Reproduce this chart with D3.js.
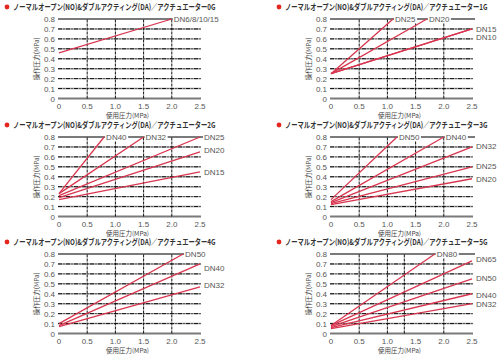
<!DOCTYPE html>
<html><head><meta charset="utf-8">
<script src="https://cdn.jsdelivr.net/npm/d3@7"></script>
<style>body{margin:0;background:#fff}svg{display:block}</style>
</head><body><svg id="c" width="500" height="355"></svg>
<script>
const titles = [
  "ノーマルオープン(NO)&ダブルアクティング(DA)／アクチュエーター0G",
  "ノーマルオープン(NO)&ダブルアクティング(DA)／アクチュエーター1G",
  "ノーマルオープン(NO)&ダブルアクティング(DA)／アクチュエーター2G",
  "ノーマルオープン(NO)&ダブルアクティング(DA)／アクチュエーター3G",
  "ノーマルオープン(NO)&ダブルアクティング(DA)／アクチュエーター4G",
  "ノーマルオープン(NO)&ダブルアクティング(DA)／アクチュエーター5G"
];
const xTicks = [0, 0.5, 1.0, 1.5, 2.0, 2.5];
const yTicks = [0, 0.1, 0.2, 0.3, 0.4, 0.5, 0.6, 0.7, 0.8];
const xTitle = "使用圧力(MPa)";
const yTitle = "操作圧力(MPa)";
// vertical grid values per panel
const gridX = [[0.5,1,1.5,2],[0.5,1,1.5,2],[0.5,1,1.5,2],[0.5,1,1.5,2],[0.5,1,1.5,2],[0.5,1,1.3,2]];
// series: name, start y at 0, end x, end y, label value y
const series0G = [["DN6/8/10/15", 0.46, 2.0, 0.8, 0.8]];
const series1G = [["DN25", 0.25, 1.1, 0.8, 0.8], ["DN20", 0.25, 1.7, 0.8, 0.8], ["DN15", 0.25, 2.5, 0.70, 0.70], ["DN10", 0.25, 2.5, 0.70, 0.62]];
const series2G = [["DN40", 0.23, 0.8, 0.8, 0.8], ["DN32", 0.23, 1.5, 0.8, 0.8], ["DN25", 0.21, 2.5, 0.8, 0.8], ["DN20", 0.19, 2.5, 0.65, 0.665], ["DN15", 0.17, 2.5, 0.45, 0.445]];
const series3G = [["DN50", 0.17, 1.17, 0.8, 0.8], ["DN40", 0.15, 2.0, 0.8, 0.8], ["DN32", 0.14, 2.5, 0.70, 0.705], ["DN25", 0.13, 2.5, 0.50, 0.505], ["DN20", 0.12, 2.5, 0.38, 0.38]];
const series4G = [["DN50", 0.10, 2.2, 0.8, 0.8], ["DN40", 0.08, 2.5, 0.70, 0.66], ["DN32", 0.07, 2.5, 0.47, 0.49]];
const series5G = [["DN80", 0.08, 1.84, 0.8, 0.8], ["DN65", 0.08, 2.5, 0.73, 0.75], ["DN50", 0.07, 2.5, 0.55, 0.56], ["DN40", 0.06, 2.5, 0.40, 0.39], ["DN32", 0.05, 2.5, 0.30, 0.30]];
const allSeries = [series0G, series1G, series2G, series3G, series4G, series5G];

const svg = d3.select("#c");
const cols = [59, 331], rows = [19, 137, 254];
const W = 141, H = 79.5;
const red = "#d8364f", font = "'Liberation Sans', Arial, sans-serif";
const jp = "'Noto Sans CJK JP', sans-serif";

allSeries.forEach((ser, i) => {
  const left = cols[i % 2], top = rows[Math.floor(i / 2)];
  const x = d3.scaleLinear().domain([0, 2.5]).range([left, left + W]);
  const y = d3.scaleLinear().domain([0, 0.8]).range([top + H, top]);
  const g = svg.append("g");
  // title
  g.append("circle").attr("cx", left - 52).attr("cy", top - 12).attr("r", 2.4).attr("fill", "#e5261e");
  const tt = g.append("text").attr("x", 0).attr("y", 0).text(titles[i])
    .attr("font-family", jp).attr("font-weight", "bold").attr("font-size", 8).attr("fill", "#333");
  const natural = tt.node().getComputedTextLength();
  tt.attr("transform", `translate(${left - 46},${top - 9}) scale(${203 / natural},1)`);
  // horizontal grid
  yTicks.forEach(v => {
    const edge = (v === 0 || v === 0.8);
    g.append("line").attr("x1", x(0) - 1).attr("x2", x(2.5) + (v === 0.8 ? 3 : 1)).attr("y1", y(v)).attr("y2", y(v))
      .attr("stroke", edge ? "#7a7a7a" : "#9a9a9a").attr("stroke-width", edge ? 2 : 1.4);
    if (!edge) g.append("line").attr("x1", x(0) - 1).attr("x2", x(2.5) + 1).attr("y1", y(v)).attr("y2", y(v))
      .attr("stroke", "#111").attr("stroke-width", 1).attr("stroke-dasharray", "4,1.5,1,1.5");
  });
  // vertical grid
  gridX[i].forEach(v => {
    g.append("line").attr("x1", x(v)).attr("x2", x(v)).attr("y1", y(0)).attr("y2", y(0.8))
      .attr("stroke", "#111").attr("stroke-width", 1).attr("stroke-dasharray", "3,1");
  });
  // tick labels
  yTicks.forEach(v => g.append("text").attr("x", left - 4).attr("y", y(v) + 3).attr("text-anchor", "end")
    .attr("font-family", font).attr("font-size", 8).attr("fill", "#555").text(v === 0 ? "0" : v.toFixed(1)));
  xTicks.forEach(v => g.append("text").attr("x", x(v)).attr("y", top + H + 10).attr("text-anchor", "middle")
    .attr("font-family", font).attr("font-size", 8).attr("fill", "#555").text(v === 0 ? "0" : v.toFixed(1)));
  g.append("text").attr("x", left + W / 2 - 2).attr("y", top + H + 19).attr("text-anchor", "middle")
    .attr("font-family", jp).attr("font-size", 6.5).attr("fill", "#444").text(xTitle);
  g.append("text").attr("transform", `translate(${left - 20},${top + H / 2}) rotate(-90)`).attr("text-anchor", "middle")
    .attr("font-family", jp).attr("font-size", 6.5).attr("fill", "#444").text(yTitle);
  // lines
  const line = d3.line().x(d => x(d[0])).y(d => y(d[1]));
  ser.forEach(s => {
    g.append("path").attr("d", line([[0, s[1]], [s[2], s[3]]])).attr("fill", "none")
      .attr("stroke", red).attr("stroke-width", 1.3);
  });
  // labels
  ser.forEach(s => {
    const onTop = s[2] < 2.5 && s[3] === 0.8;
    const lx = onTop ? x(s[2]) + 2 : x(2.5) + 4;
    const t = g.append("text").attr("x", lx).attr("y", y(s[4]) + 3)
      .attr("font-family", font).attr("font-size", 8).attr("fill", "#555").text(s[0]);
    if (onTop) {
      const b = t.node().getBBox();
      g.insert("rect", () => t.node()).attr("x", b.x - 1).attr("y", b.y + 1).attr("width", b.width + 2).attr("height", b.height - 2).attr("fill", "#fff");
    }
  });
});
</script></body></html>
